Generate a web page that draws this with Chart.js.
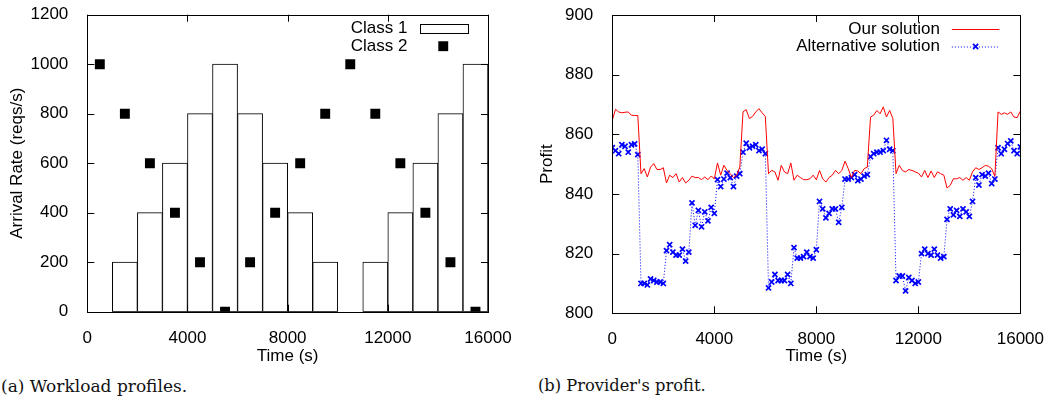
<!DOCTYPE html>
<html>
<head>
<meta charset="utf-8">
<script src="https://cdn.jsdelivr.net/npm/chart.js@4.4.0/dist/chart.umd.min.js"></script>
<style>
  html, body { margin: 0; padding: 0; background: #fff; }
  body { width: 1052px; height: 401px; position: relative; overflow: hidden; }
  canvas { position: absolute; top: 0; }
  #workload { left: 0; }
  #profit { left: 530px; }
  .caption { position: absolute; top: 376px; font-family: "DejaVu Serif", serif; color: #111; white-space: nowrap; }
</style>
</head>
<body>
<canvas id="workload" width="530" height="370"></canvas>
<canvas id="profit" width="522" height="370"></canvas>
<div class="caption" style="left:1px; font-size:17px">(a) Workload profiles.</div>
<div class="caption" style="left:538px; font-size:16.3px">(b) Provider's profit.</div>
<script>
// (a) workload profiles: one bin every 1000 s
const binCentres = [500, 1500, 2500, 3500, 4500, 5500, 6500, 7500, 8500, 9500, 10500, 11500, 12500, 13500, 14500, 15500];
const class1Rate = [0, 200, 400, 600, 800, 1000, 800, 600, 400, 200, 0, 200, 400, 600, 800, 1000];
const class2Rate = [1000, 800, 600, 400, 200, 0, 200, 400, 600, 800, 1000, 800, 600, 400, 200, 0];
const timeTicks = [0, 4000, 8000, 12000, 16000];
const rateTicks = [0, 200, 400, 600, 800, 1000, 1200];

// (b) provider's profit, sampled every 125 s
const sampleStep = 125;
const ourProfit = [
  864.7, 868.4, 867.5, 867.2, 867.4, 867.5, 866.4, 866.3, 866.3,
  846.8, 848.5, 845.7, 849.0, 850.2, 848.2, 848.2, 848.8,
  843.7, 846.3, 845.5, 846.8, 844.0, 845.5, 843.7, 844.6,
  846.0, 845.5, 845.5, 844.8, 845.7, 844.8, 846.0, 845.1,
  850.4, 846.3, 849.6, 847.9, 846.8, 845.5, 846.3, 849.0,
  867.5, 868.3, 865.3, 866.0, 867.5, 868.6, 867.2, 866.0,
  846.8, 847.9, 847.4, 844.6, 849.6, 847.4, 846.8, 850.4,
  844.6, 846.3, 845.5, 844.8, 844.8, 845.1, 846.3, 844.8,
  847.9, 845.1, 844.0, 845.5, 846.3, 847.9, 846.8, 847.9,
  851.0, 848.5, 845.5, 847.9, 847.7, 846.8, 848.5, 849.0,
  865.8, 866.4, 868.0, 866.9, 869.2, 865.8, 868.0, 865.3,
  846.8, 849.6, 847.9, 847.4, 848.2, 847.9, 847.4, 847.0,
  845.7, 847.9, 845.5, 847.7, 845.5, 847.4, 846.8, 846.3,
  842.0, 842.9, 845.1, 845.1, 845.5, 844.6, 845.5, 844.6,
  847.4, 848.8, 848.2, 848.8, 849.6, 849.3, 848.5, 845.9,
  867.5, 866.7, 867.2, 866.7, 867.5, 865.8, 865.6, 867.8
];
const altProfit = [
  855.5, 854.5, 853.5, 856.5, 856.0, 854.0, 856.5, 856.8, 853.2,
  810.0, 810.0, 809.5, 811.5, 811.0, 810.5, 810.5, 810.0,
  821.0, 823.0, 820.5, 819.5, 819.5, 821.5, 817.5, 820.5,
  837.0, 829.5, 834.5, 829.0, 834.0, 831.0, 835.5, 833.5,
  844.8, 842.5, 845.0, 847.0, 845.5, 842.5, 846.0, 846.8,
  854.0, 857.0, 855.5, 856.0, 856.5, 854.5, 855.0, 853.5,
  808.5, 810.5, 813.0, 811.0, 811.0, 811.0, 813.0, 810.0,
  822.0, 818.5, 818.5, 819.0, 820.5, 819.0, 818.5, 821.3,
  837.5, 835.0, 832.0, 833.5, 835.0, 835.0, 830.5, 835.5,
  845.0, 845.0, 845.5, 846.5, 844.5, 845.0, 846.0, 846.5,
  852.5, 853.5, 854.0, 854.0, 854.5, 858.0, 855.0, 854.5,
  811.0, 812.5, 812.5, 807.5, 812.0, 811.0, 810.0, 810.5,
  820.0, 821.5, 820.0, 819.5, 821.5, 819.5, 818.5, 819.0,
  831.5, 835.0, 833.0, 834.5, 832.5, 835.0, 834.0, 832.5,
  837.5, 845.5, 843.0, 846.5, 846.0, 847.0, 843.5, 845.0,
  855.5, 853.5, 855.0, 856.9, 857.8, 854.5, 853.5, 855.8
];
const profitTicks = [800, 820, 840, 860, 880, 900];

const font = { family: '"Liberation Sans", Arial, sans-serif', size: 17 };

// gnuplot look: closed frame, inward ticks on all four sides, key at top right
const gnuplotLook = {
  id: 'gnuplotLook',
  afterDraw(chart) {
    const { ctx, chartArea: a } = chart;
    const x = chart.scales.x, y = chart.scales.y;
    ctx.save();
    ctx.strokeStyle = '#000';
    ctx.lineWidth = 1;
    ctx.setLineDash([]);
    ctx.beginPath();
    x.ticks.forEach(t => {
      const px = Math.round(x.getPixelForValue(t.value)) + 0.5;
      ctx.moveTo(px, a.bottom); ctx.lineTo(px, a.bottom - 7);
      ctx.moveTo(px, a.top); ctx.lineTo(px, a.top + 7);
    });
    y.ticks.forEach(t => {
      const py = Math.round(y.getPixelForValue(t.value)) + 0.5;
      ctx.moveTo(a.left, py); ctx.lineTo(a.left + 7, py);
      ctx.moveTo(a.right, py); ctx.lineTo(a.right - 7, py);
    });
    ctx.stroke();
    ctx.strokeRect(Math.round(a.left) + 0.5, Math.round(a.top) + 0.5,
                   Math.round(a.right - a.left), Math.round(a.bottom - a.top));

    // key
    ctx.font = font.size + 'px ' + font.family;
    ctx.textAlign = 'right';
    ctx.textBaseline = 'middle';
    const textX = a.right - 80.5, s0 = a.right - 68.5, s1 = a.right - 21, sm = (s0 + s1) / 2;
    chart.data.datasets.forEach((ds, i) => {
      const row = a.top + 14 + i * 17.5;
      ctx.fillStyle = '#000';
      ctx.fillText(ds.label, textX, row);
      if (ds.legendSample === 'box') {
        ctx.fillStyle = '#fff';
        ctx.fillRect(s0, row - 5, s1 - s0, 9);
        ctx.strokeStyle = '#000';
        ctx.strokeRect(Math.round(s0) + 0.5, Math.round(row - 5) + 0.5, Math.round(s1 - s0), 9);
      } else if (ds.legendSample === 'point') {
        ctx.fillStyle = ds.pointBackgroundColor;
        Chart.helpers.drawPoint(ctx, { pointStyle: ds.pointStyle, radius: ds.pointRadius, borderWidth: 0, rotation: 0 }, sm, row);
      } else {
        ctx.strokeStyle = ds.borderColor;
        ctx.lineWidth = ds.borderWidth;
        ctx.setLineDash(ds.borderDash || []);
        ctx.beginPath();
        ctx.moveTo(s0, row + 0.5); ctx.lineTo(s1, row + 0.5);
        ctx.stroke();
        ctx.setLineDash([]);
        if (ds.pointRadius > 0) {
          ctx.lineWidth = ds.pointBorderWidth;
          Chart.helpers.drawPoint(ctx, { pointStyle: ds.pointStyle, radius: ds.pointRadius, borderWidth: ds.pointBorderWidth, rotation: 0 }, sm, row);
        }
      }
    });
    ctx.restore();
  }
};

const plain = v => String(v);

const axisX = (height) => ({
  type: 'linear', min: 0, max: 16000, offset: false,
  grid: { display: false, offset: false }, border: { display: false },
  afterBuildTicks: s => { s.ticks = timeTicks.map(v => ({ value: v })); },
  ticks: { padding: 8, color: '#000', font, maxRotation: 0, autoSkip: false, callback: plain },
  title: { display: true, text: 'Time (s)', color: '#000', font, padding: { top: 0, bottom: 3 } },
  afterFit: s => { s.height = height; }
});

// fixed width; drop the label overhang padding so the plot top stays where it is set
const axisY = (min, max, tickList, label, width, titlePad) => ({
  type: 'linear', min, max,
  grid: { display: false }, border: { display: false },
  afterBuildTicks: s => { s.ticks = tickList.map(v => ({ value: v })); },
  ticks: { padding: 11, color: '#000', font, callback: plain },
  title: { display: true, text: label, color: '#000', font, padding: { top: titlePad, bottom: 0 } },
  afterFit: s => { s.width = width; s.paddingTop = 0; s.paddingBottom = 0; }
});

new Chart(document.getElementById('workload'), {
  type: 'bar',
  data: {
    datasets: [
      {
        type: 'bar', label: 'Class 1', legendSample: 'box', order: 2,
        data: binCentres.map((t, i) => ({ x: t, y: class1Rate[i] })),
        backgroundColor: '#fff', borderColor: '#000', borderWidth: 1, borderSkipped: false,
        barPercentage: 1, categoryPercentage: 1
      },
      {
        type: 'scatter', label: 'Class 2', legendSample: 'point', order: 1,
        data: binCentres.map((t, i) => ({ x: t, y: class2Rate[i] })),
        pointStyle: 'rect', pointRadius: 7, pointBackgroundColor: '#000', pointBorderWidth: 0
      }
    ]
  },
  options: {
    responsive: false, animation: false,
    layout: { padding: { top: 14.7, right: 42, left: 0, bottom: 0 } },
    plugins: { legend: { display: false }, tooltip: { enabled: false } },
    scales: {
      x: axisX(58.3),
      y: axisY(0, 1200, rateTicks, 'Arrival Rate (reqs/s)', 87.3, 7.5)
    }
  },
  plugins: [gnuplotLook]
});

new Chart(document.getElementById('profit'), {
  type: 'line',
  data: {
    datasets: [
      {
        label: 'Our solution', legendSample: 'line',
        data: ourProfit.map((v, i) => ({ x: i * sampleStep, y: v })),
        borderColor: '#ff0000', borderWidth: 1, pointRadius: 0, tension: 0, fill: false
      },
      {
        label: 'Alternative solution', legendSample: 'line',
        data: altProfit.map((v, i) => ({ x: i * sampleStep, y: v })),
        borderColor: '#0000ff', borderWidth: 1, borderDash: [1, 2], tension: 0, fill: false,
        pointStyle: 'crossRot', pointRadius: 3.6, pointBorderWidth: 1.7,
        pointBorderColor: '#0000ff', pointBackgroundColor: '#0000ff'
      }
    ]
  },
  options: {
    responsive: false, animation: false,
    layout: { padding: { top: 15, right: 28.7, left: 0, bottom: 0 } },
    plugins: { legend: { display: false }, tooltip: { enabled: false } },
    scales: {
      x: axisX(56.7),
      y: axisY(800, 900, profitTicks, 'Profit', 82.3, 7)
    }
  },
  plugins: [gnuplotLook]
});
</script>
</body>
</html>
